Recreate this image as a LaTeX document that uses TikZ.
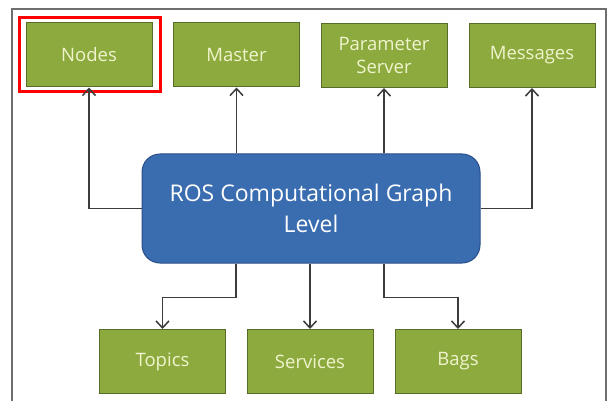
\documentclass[tikz,border=0pt]{standalone}
\usepackage{fontspec}
\setmainfont{Open Sans}
\usetikzlibrary{arrows.meta}

\definecolor{boxgreen}{RGB}{140,170,62}
\definecolor{boxgreenline}{RGB}{88,108,42}
\definecolor{boxtext}{RGB}{240,244,205}
\definecolor{rosblue}{RGB}{58,108,176}
\definecolor{rosblueline}{RGB}{40,78,138}
\definecolor{framegray}{RGB}{110,110,110}
\definecolor{linkgray}{RGB}{60,60,60}

\tikzset{
	concept/.style={draw=boxgreenline, fill=boxgreen, line width=1pt, text=boxtext,
		minimum width=126pt, minimum height=64pt, align=center,
		font=\fontsize{18.5}{23}\selectfont},
	level/.style={draw=rosblueline, fill=rosblue, line width=1pt, rounded corners=18pt,
		text=white, minimum width=338pt, minimum height=109pt, align=center,
		font=\fontsize{23}{31}\selectfont},
	link/.style={draw=linkgray, line width=1.3pt, -{Straight Barb[length=7pt, width=13pt, line width=1.5pt]}}
}

\begin{document}
\begin{tikzpicture}[x=1pt, y=-1pt]
	\useasboundingbox (0,0) rectangle (613,401);
	% outer frame (open at the bottom)
	\draw[framegray, line width=1.2pt] (12,401) -- (12,9) -- (606,9) -- (606,401);
	% centre block
	\node[level] (ros) at (311,208.5) {ROS Computational Graph\\Level};
	% upper row
	\node[concept] (nodes) at (89,55) {Nodes};
	\node[concept] (master) at (236.5,55) {Master};
	\node[concept] (param) at (384,55.5) {Parameter\\Server};
	\node[concept] (messages) at (532,55.5) {Messages};
	% lower row
	\node[concept] (topics) at (162.5,361.5) {Topics};
	\node[concept] (services) at (310,361.5) {Services};
	\node[concept] (bags) at (458,361.5) {Bags};
	% highlight
	\draw[red, line width=3pt] ([shift={(-6.5,-4.5)}]nodes.north west) rectangle ([shift={(7.5,4)}]nodes.south east);
	% links up
	\draw[link] (ros.west) -| (nodes);
	\draw[link] (ros.north -| master) -- (master);
	\draw[link] (ros.north -| param) -- (param);
	\draw[link] (ros.east) -| (messages);
	% links down
	\draw[link] ([xshift=-75pt]ros.south) -- ++(0,34) -| (topics);
	\draw[link] (ros.south -| services) -- (services);
	\draw[link] ([xshift=73pt]ros.south) -- ++(0,34) -| (bags);
\end{tikzpicture}
\end{document}
